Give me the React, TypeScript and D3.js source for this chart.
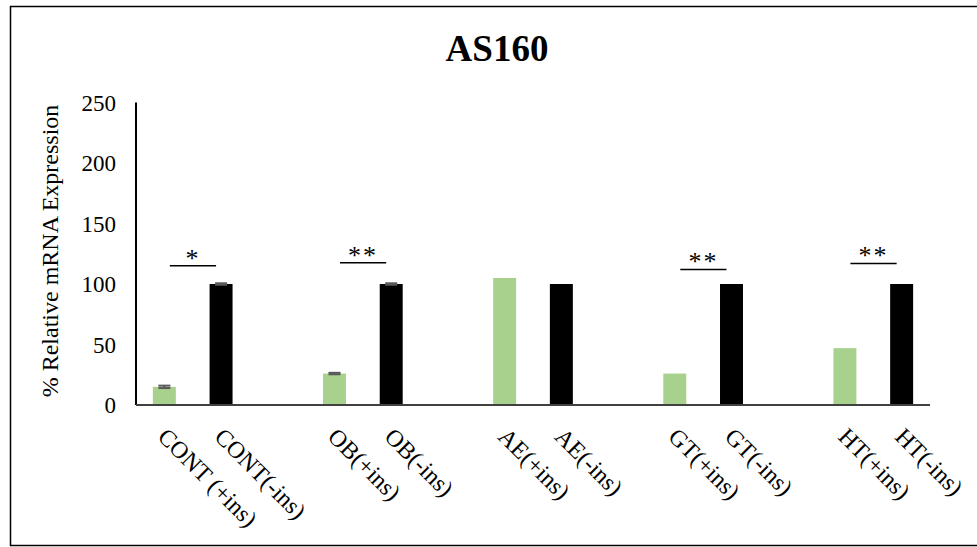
import { useEffect } from "react";
import * as d3 from "d3";

const groups = ["CONT", "OB", "AE", "GT", "HT"];
const plusLabels = ["CONT (+ins)", "OB(+ins)", "AE(+ins)", "GT(+ins)", "HT(+ins)"];
const minusLabels = ["CONT(-ins)", "OB(-ins)", "AE(-ins)", "GT(-ins)", "HT(-ins)"];
const plusIns = [15, 26, 105, 26, 47];
const minusIns = [100, 100, 100, 100, 100];
const plusErr = [1, 0.6, 0, 0, 0];
const minusErr = [0.6, 0.6, 0, 0, 0];

// significance brackets between +ins and -ins of a group
const sigGroups = ["CONT", "OB", "GT", "HT"];
const sigText = ["*", "**", "**", "**"];
const sigLevel = [115, 117.5, 112, 117];

const yTicks = [0, 50, 100, 150, 200, 250];

const W = 977;
const H = 547;
const FONT = "'Liberation Serif', 'Times New Roman', serif";
const GREEN = "#A9D18E";

export default function App() {
  useEffect(() => {
    document.body.style.margin = "0";
  }, []);

  // 3 slots per group (+ins, -ins, gap), last gap dropped
  const slots = d3.range(groups.length * 3 - 1);
  const x = d3.scaleBand<number>().domain(slots).range([136, 930]).padding(0);
  const y = d3.scaleLinear().domain([0, 250]).range([405, 102.5]);
  const step = x.step();
  const barW = step * 0.405;
  const cx = (slot: number) => (x(slot) ?? 0) + step / 2;

  const bars = groups.flatMap((g, i) => [
    { slot: i * 3, value: plusIns[i], err: plusErr[i], fill: GREEN, label: plusLabels[i] },
    { slot: i * 3 + 1, value: minusIns[i], err: minusErr[i], fill: "#000", label: minusLabels[i] },
  ]);

  return (
    <svg width={W} height={H} style={{ display: "block", background: "#fff" }} fontFamily={FONT}>
      <rect x={10.5} y={6.5} width={990} height={539} fill="#fff" stroke="#000" strokeWidth={1.5} />

      <text x={497} y={61} textAnchor="middle" fontSize={37} fontWeight="bold">
        AS160
      </text>

      {/* y axis */}
      <line x1={136} x2={136} y1={y(250)} y2={y(0)} stroke="#000" strokeWidth={2} />
      {yTicks.map((t) => (
        <text key={t} x={116} y={y(t)} dy="0.35em" textAnchor="end" fontSize={23}>
          {t}
        </text>
      ))}
      <text
        transform={`translate(58,251) rotate(-90)`}
        textAnchor="middle"
        fontSize={24}
      >
        % Relative mRNA Expression
      </text>

      {/* bars */}
      {bars.map((b) => (
        <rect
          key={b.slot}
          x={cx(b.slot) - barW / 2}
          y={y(b.value)}
          width={barW}
          height={y(0) - y(b.value)}
          fill={b.fill}
        />
      ))}

      {/* error bars */}
      {bars
        .filter((b) => b.err > 0)
        .map((b) => (
          <g key={`e${b.slot}`} stroke="#595959" strokeWidth={2}>
            <line x1={cx(b.slot)} x2={cx(b.slot)} y1={y(b.value - b.err)} y2={y(b.value + b.err)} />
            <line x1={cx(b.slot) - 6} x2={cx(b.slot) + 6} y1={y(b.value + b.err)} y2={y(b.value + b.err)} />
            <line x1={cx(b.slot) - 6} x2={cx(b.slot) + 6} y1={y(b.value - b.err)} y2={y(b.value - b.err)} />
          </g>
        ))}

      {/* x axis */}
      <line x1={136} x2={930} y1={y(0)} y2={y(0)} stroke="#404040" strokeWidth={2} />

      {/* category labels */}
      {bars.map((b) => (
        <text
          key={`l${b.slot}`}
          transform={`translate(${cx(b.slot) + 4},426) rotate(45)`}
          dy="0.7em"
          fontSize={24}
        >
          {b.label}
        </text>
      ))}

      {/* significance */}
      {sigGroups.map((g, k) => {
        const i = groups.indexOf(g);
        const x1 = cx(i * 3) + 5.5;
        const x2 = cx(i * 3 + 1) - 5;
        const yy = y(sigLevel[k]);
        return (
          <g key={g}>
            <line x1={x1} x2={x2} y1={yy} y2={yy} stroke="#000" strokeWidth={1.5} />
            <text x={(x1 + x2) / 2} y={yy + 1} textAnchor="middle" fontSize={26} letterSpacing={2}>
              {sigText[k]}
            </text>
          </g>
        );
      })}
    </svg>
  );
}
